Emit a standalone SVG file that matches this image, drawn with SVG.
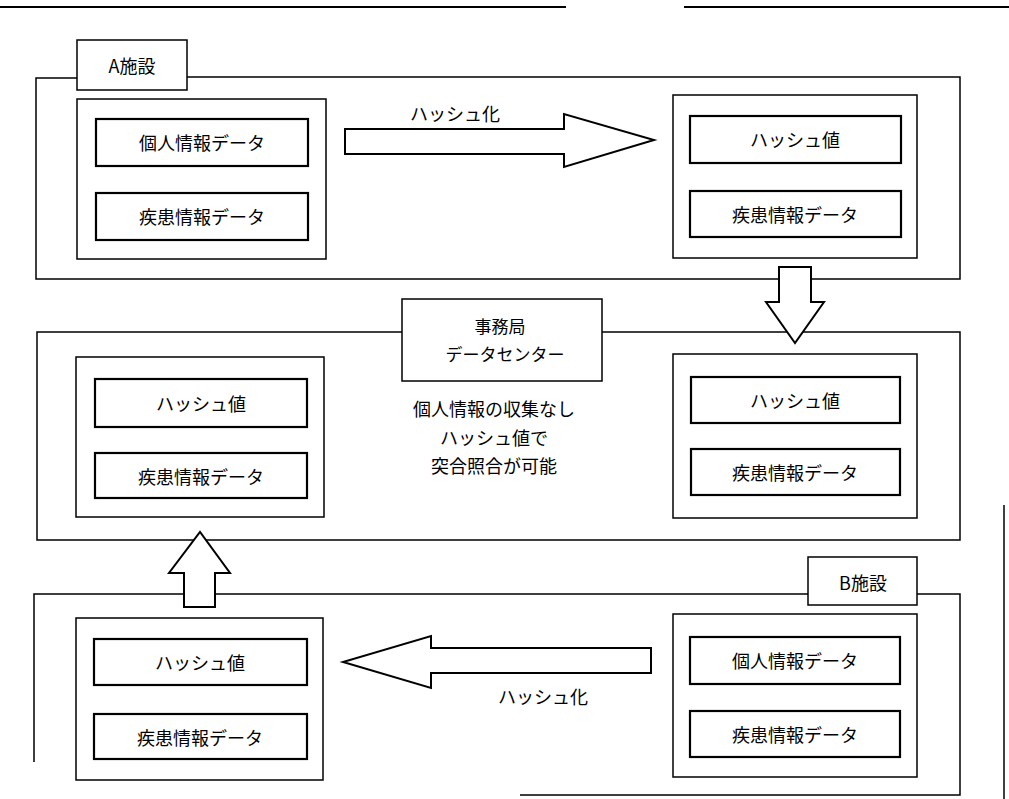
<svg xmlns="http://www.w3.org/2000/svg" width="1009" height="799" viewBox="0 0 1009 799">
<style>
.f{fill:none;stroke:#000;stroke-width:1.5}
.b{fill:#fff;stroke:#000;stroke-width:1.5}
.d{fill:#fff;stroke:#000;stroke-width:2.2}
.a{fill:#fff;stroke:#000;stroke-width:2;stroke-linejoin:miter}
text{font-family:"Noto Sans CJK JP","Noto Sans CJK SC",sans-serif;font-size:18px;fill:#000;text-anchor:middle;dominant-baseline:central}
.s{font-size:17px}
</style>
<rect width="1009" height="799" fill="#fff"/>
<g id="page-edges" class="f">
<line x1="0" y1="7" x2="566" y2="7" stroke-width="2"/>
<line x1="684" y1="7" x2="1009" y2="7" stroke-width="2"/>
<line x1="1004" y1="505" x2="1004" y2="799"/>
</g>
<g id="facility-a">
<path class="f" d="M77 78 H36 V279 H960 V77 H187"/>
<rect class="b" x="77" y="40" width="110" height="50"/>
<text x="132" y="65">A施設</text>
<g id="a-left">
<rect class="b" x="77" y="99" width="249" height="160"/>
<rect class="d" x="96" y="119" width="212" height="47"/>
<text x="202" y="142">個人情報データ</text>
<rect class="d" x="96" y="193" width="212" height="47"/>
<text x="202" y="216">疾患情報データ</text>
</g>
<g id="a-right">
<rect class="b" x="673" y="95" width="244" height="163"/>
<rect class="d" x="690" y="116" width="211" height="47"/>
<text x="795" y="139">ハッシュ値</text>
<rect class="d" x="690" y="191" width="211" height="46"/>
<text x="795" y="214">疾患情報データ</text>
</g>
</g>
<g id="center">
<path class="f" d="M402 332 H37 V540 H960 V332 H602"/>
<rect class="b" x="402" y="299" width="200" height="82"/>
<text x="500" y="325" class="s">事務局</text>
<text x="505" y="353" class="s">データセンター</text>
<text x="494" y="408">個人情報の収集なし</text>
<text x="494" y="437">ハッシュ値で</text>
<text x="494" y="465">突合照合が可能</text>
<g id="c-left">
<rect class="b" x="76" y="357" width="248" height="160"/>
<rect class="d" x="95" y="379" width="212" height="48"/>
<text x="201" y="403">ハッシュ値</text>
<rect class="d" x="95" y="453" width="212" height="45"/>
<text x="201" y="476">疾患情報データ</text>
</g>
<g id="c-right">
<rect class="b" x="673" y="354" width="244" height="164"/>
<rect class="d" x="691" y="377" width="209" height="46"/>
<text x="795" y="400">ハッシュ値</text>
<rect class="d" x="691" y="449" width="209" height="46"/>
<text x="795" y="472">疾患情報データ</text>
</g>
</g>
<g id="facility-b">
<path class="f" d="M808 594 H34 V762 M520 795 H960 V594 H917"/>
<rect class="b" x="808" y="557" width="109" height="48"/>
<text x="863" y="582">B施設</text>
<g id="b-left">
<rect class="b" x="76" y="618" width="247" height="162"/>
<rect class="d" x="94" y="639" width="213" height="46"/>
<text x="200" y="662">ハッシュ値</text>
<rect class="d" x="94" y="714" width="213" height="45"/>
<text x="200" y="737">疾患情報データ</text>
</g>
<g id="b-right">
<rect class="b" x="673" y="614" width="244" height="163"/>
<rect class="d" x="690" y="637" width="210" height="47"/>
<text x="795" y="660">個人情報データ</text>
<rect class="d" x="690" y="711" width="210" height="46"/>
<text x="795" y="734">疾患情報データ</text>
</g>
</g>
<g id="connectors">
<path class="a" d="M345 129 H564 V114 L654 140 L564 167 V154 H345 Z"/>
<text x="455" y="113">ハッシュ化</text>
<path class="a" d="M779 267 H811 V302 H824 L795 343 L766 302 H779 Z"/>
<path class="a" d="M651 648 H431 V636 L343 662 L431 688 V673 H651 Z"/>
<text x="543" y="696">ハッシュ化</text>
<path class="a" d="M184 607 V573 H169 L200 532 L230 573 H215 V607 Z"/>
</g>
</svg>
